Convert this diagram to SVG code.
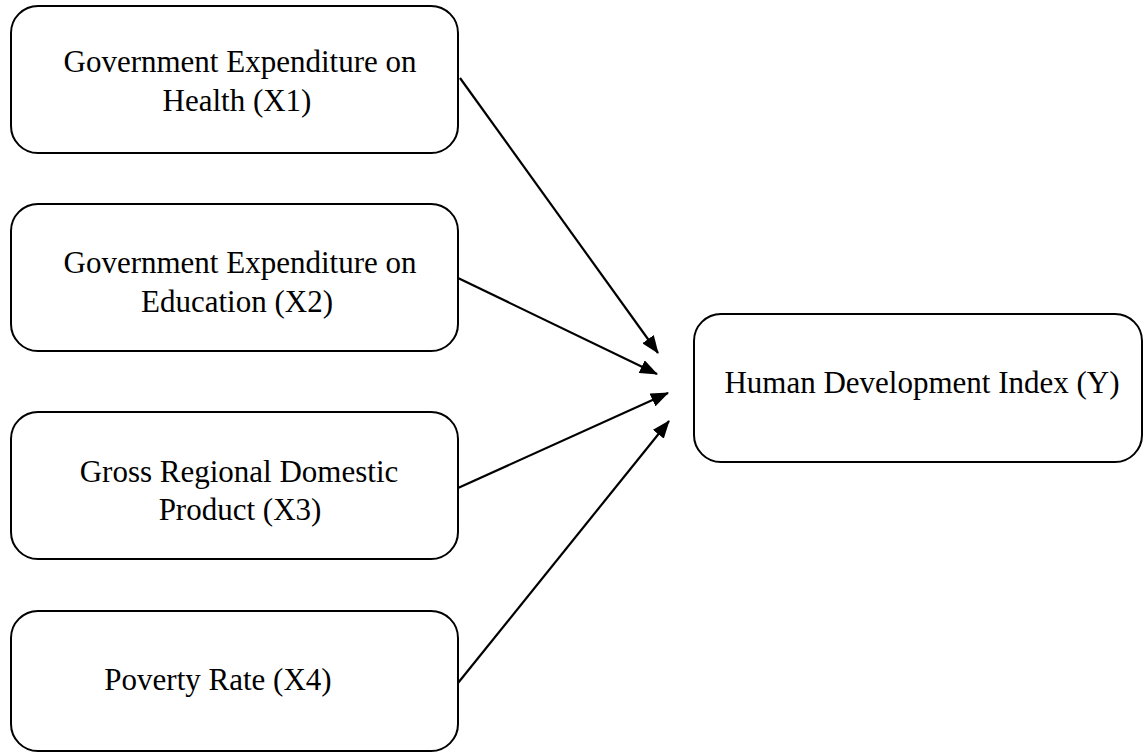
<svg xmlns="http://www.w3.org/2000/svg" width="1146" height="753" viewBox="0 0 1146 753">
<style>
.box{fill:#fff;stroke:#000;stroke-width:2}
.t{font-family:"Liberation Serif","Times New Roman",serif;font-size:31px;fill:#000;text-anchor:middle}
.c{stroke:#000;stroke-width:2.2;fill:none}
</style>
<defs>
<marker id="ah" viewBox="0 0 18 14" refX="17" refY="7" markerWidth="18" markerHeight="14" markerUnits="userSpaceOnUse" orient="auto">
<path d="M0,0 L18,7 L0,14 Z" fill="#000"/>
</marker>
</defs>
<rect width="1146" height="753" fill="#fff"/>
<g id="x1"><rect class="box" x="11" y="6" width="447" height="147" rx="27"/>
<text class="t" x="240" y="72">Government Expenditure on</text>
<text class="t" x="237" y="111">Health (X1)</text></g>
<g id="x2"><rect class="box" x="11" y="204" width="447" height="147" rx="27"/>
<text class="t" x="240" y="273">Government Expenditure on</text>
<text class="t" x="237" y="312">Education (X2)</text></g>
<g id="x3"><rect class="box" x="11" y="412" width="447" height="147" rx="27"/>
<text class="t" x="239" y="482">Gross Regional Domestic</text>
<text class="t" x="240" y="520">Product (X3)</text></g>
<g id="x4"><rect class="box" x="11" y="611" width="447" height="140" rx="27"/>
<text class="t" x="218" y="690">Poverty Rate (X4)</text></g>
<g id="y"><rect class="box" x="694" y="314" width="448" height="148" rx="27"/>
<text class="t" x="922" y="393">Human Development Index (Y)</text></g>
<g id="connectors">
<line class="c" x1="460" y1="78" x2="658" y2="353" marker-end="url(#ah)"/>
<line class="c" x1="458" y1="278" x2="657" y2="374" marker-end="url(#ah)"/>
<line class="c" x1="458" y1="488" x2="668" y2="393" marker-end="url(#ah)"/>
<line class="c" x1="458" y1="683" x2="669" y2="421" marker-end="url(#ah)"/>
</g>
</svg>
